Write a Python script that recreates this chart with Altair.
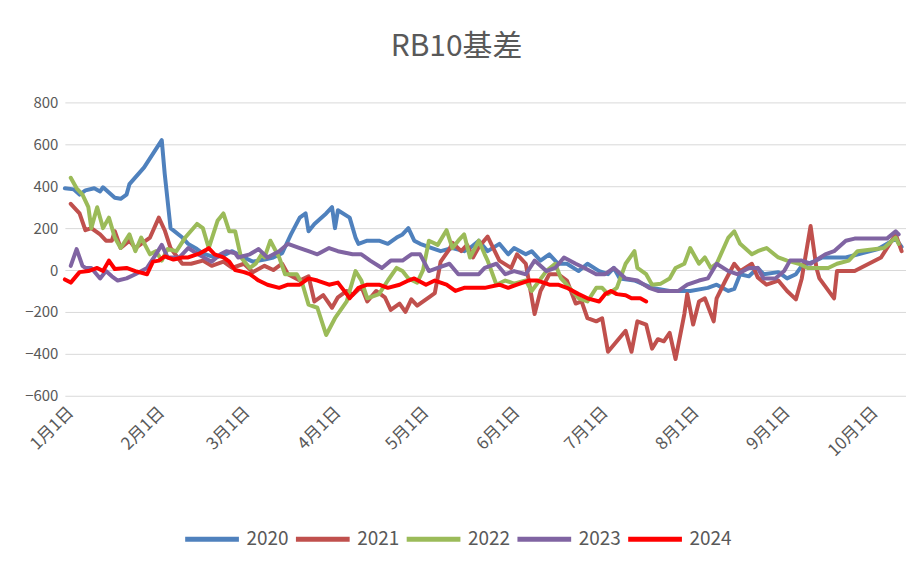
import altair as alt
import pandas as pd

years = ["2020", "2021", "2022", "2023", "2024"]
colors = ["#4F81BD", "#C0504D", "#9BBB59", "#8064A2", "#FF0000"]

# (day of year offset from Jan 1, basis value)
s2020 = [(0,390),(3,385),(5,360),(7,380),(10,390),(12,375),(13,395),(15,370),(17,345),(19,340),
         (21,360),(22,410),(27,490),(33,620),(34,460),(36,200),(40,155),(42,125),(45,100),(47,80),
         (51,60),(54,70),(57,90),(61,60),(64,40),(68,50),(71,60),(74,80),(77,170),(80,250),
         (82,270),(83,185),(85,220),(89,270),(91,300),(92,200),(93,285),(97,250),(99,155),(100,125),
         (103,140),(107,140),(110,125),(113,155),(115,170),(117,200),(119,140),(121,125),(125,105),(128,90),
         (132,105),(136,90),(138,105),(141,140),(144,90),(148,125),(151,75),(153,105),(157,75),(159,90),
         (162,45),(165,75),(168,30),(171,30),(175,-5),(178,30),(182,-5),(185,-20),(187,10),(189,-40),
         (194,-50),(200,-85),(206,-100),(213,-100),(219,-85),(222,-70),(226,-100),(228,-90),(230,-20),(233,-30),
         (236,10),(238,-20),(243,-10),(246,-40),(249,-20),(251,20),(255,40),(258,60),(262,60),(266,60),
         (277,100),(283,150),(285,110)]

s2021 = [(2,316),(5,270),(7,190),(9,200),(12,170),(14,140),(16,140),(17,185),(19,105),(22,140),
         (24,105),(26,125),(29,155),(32,250),(34,190),(36,105),(40,30),(43,30),(47,45),(50,20),
         (54,40),(57,10),(61,30),(64,-10),(68,20),(71,0),(74,30),(76,-20),(80,-50),(83,-30),
         (85,-150),(88,-120),(91,-180),(93,-130),(96,-100),(98,-120),(101,-80),(103,-150),(106,-100),(109,-130),
         (111,-190),(114,-160),(116,-200),(118,-140),(120,-170),(124,-130),(126,-110),(128,40),(131,100),(132,130),
         (135,90),(137,120),(139,60),(141,110),(144,160),(148,45),(152,10),(154,75),(157,30),(160,-210),
         (162,-100),(165,-20),(168,-20),(171,-50),(174,-160),(176,-150),(178,-230),(181,-245),(183,-230),(185,-390),
         (188,-340),(191,-290),(193,-390),(195,-245),(198,-260),(200,-375),(202,-330),(204,-340),(206,-300),(208,-425),
         (211,-210),(212,-115),(214,-260),(216,-150),(218,-135),(221,-245),(222,-135),(225,-50),(228,30),(230,-5),
         (234,30),(236,-35),(239,-70),(243,-50),(246,-100),(249,-140),(251,-40),(254,210),(256,10),(257,-40),
         (262,-135),(263,-5),(269,-5),(278,60),(283,170),(285,90)]

s2022 = [(2,440),(4,390),(6,360),(8,300),(9,200),(11,300),(13,200),(15,250),(17,155),(19,105),
         (22,170),(24,90),(26,155),(29,75),(31,90),(33,45),(35,100),(38,90),(41,155),(45,220),
         (47,200),(49,105),(52,235),(54,270),(56,185),(58,185),(60,60),(63,10),(65,30),(67,75),
         (68,60),(70,140),(73,60),(75,-20),(79,-20),(81,-70),(83,-165),(86,-180),(89,-310),(92,-230),
         (96,-150),(97,-100),(99,-5),(101,-50),(103,-135),(107,-115),(110,-50),(113,10),(115,-5),(117,-40),
         (120,-60),(122,0),(124,140),(127,120),(130,190),(132,105),(134,140),(136,170),(138,60),(141,140),
         (143,75),(144,45),(147,-70),(150,-50),(153,-65),(157,-50),(159,-100),(164,-5),(167,30),(169,-40),
         (171,-70),(175,-135),(178,-150),(181,-85),(183,-85),(185,-115),(188,-85),(191,30),(194,90),(195,10),
         (198,-20),(200,-70),(203,-65),(206,-40),(208,10),(211,30),(213,105),(216,30),(218,60),(220,10),
         (222,30),(226,155),(228,185),(230,125),(234,75),(236,90),(239,105),(243,60),(246,45),(250,30),
         (253,10),(256,10),(260,10),(263,30),(267,45),(270,90),(279,105),(283,155),(284,125)]

s2023 = [(2,20),(4,100),(6,20),(7,10),(9,10),(12,-40),(14,-5),(16,-30),(18,-50),(21,-40),
         (24,-20),(28,10),(31,75),(33,120),(35,60),(39,60),(42,105),(46,70),(50,40),(53,75),
         (55,90),(58,80),(59,60),(63,75),(66,100),(69,60),(73,90),(76,125),(80,105),(83,90),
         (86,75),(90,105),(93,90),(98,75),(101,75),(104,45),(108,10),(111,45),(115,45),(118,75),
         (121,75),(124,-5),(127,10),(131,30),(134,-20),(138,-20),(141,-20),(143,10),(147,30),(150,-20),
         (153,-5),(157,-20),(160,45),(164,-5),(167,10),(170,60),(174,30),(177,10),(181,-20),(184,-20),
         (187,10),(191,-40),(195,-50),(199,-85),(202,-100),(205,-100),(209,-100),(212,-70),(216,-50),(219,-40),
         (222,30),(226,-5),(229,-20),(233,10),(236,10),(238,-40),(242,-40),(245,-5),(247,45),(251,45),
         (254,30),(259,75),(262,90),(266,140),(269,150),(272,150),(277,150),(280,150),(283,185),(284,170)]

s2024 = [(0,-45),(2,-60),(5,-10),(8,-5),(11,10),(13,-5),(15,45),(17,5),(21,10),(24,-5),
         (28,-20),(30,40),(32,45),(34,65),(37,50),(40,60),(42,60),(46,80),(48,95),(49,105),
         (51,75),(54,60),(56,40),(58,0),(61,-10),(63,-20),(66,-50),(69,-70),(73,-85),(76,-70),
         (80,-70),(83,-40),(86,-50),(90,-70),(93,-60),(96,-115),(97,-135),(100,-85),(103,-70),(107,-70),
         (110,-85),(114,-70),(117,-50),(119,-40),(123,-70),(126,-50),(130,-70),(133,-100),(136,-85),(140,-85),
         (143,-85),(148,-70),(151,-85),(154,-70),(158,-50),(161,-50),(165,-70),(168,-70),(171,-85),(175,-115),
         (178,-135),(182,-150),(184,-115),(186,-100),(188,-115),(191,-120),(193,-135),(196,-135),(198,-150)]

series = {"2020": s2020, "2021": s2021, "2022": s2022, "2023": s2023, "2024": s2024}

base = pd.Timestamp("2024-01-01")
rows = []
for yr in years:
    for d, v in series[yr]:
        rows.append({"date": (base + pd.Timedelta(days=d)).strftime("%Y-%m-%dT00:00:00"),
                     "value": v, "year": yr})
df = pd.DataFrame(rows)

month_ticks = [alt.DateTime(year=2024, month=m, date=1) for m in range(1, 11)]
y_ticks = list(range(-600, 801, 200))
txt = "#595959"

chart = alt.Chart(df).mark_line(strokeWidth=4, strokeJoin="round", strokeCap="round").encode(
    x=alt.X("date:T",
            scale=alt.Scale(domain=[alt.DateTime(year=2024, month=1, date=1),
                                    alt.DateTime(year=2024, month=10, date=13, hours=12)]),
            axis=alt.Axis(values=month_ticks, format="%-m月%-d日", labelAngle=-45, grid=False,
                          domain=False, ticks=False, labelPadding=8, labelFontSize=17,
                          labelColor=txt, labelOverlap=False, labelFlush=False, title=None)),
    y=alt.Y("value:Q",
            scale=alt.Scale(domain=[-600, 800], nice=False, zero=False),
            axis=alt.Axis(values=y_ticks, grid=True, gridColor="#D9D9D9", gridWidth=1,
                          domain=False, ticks=False, labelPadding=7, labelFontSize=15,
                          labelColor=txt, title=None)),
    color=alt.Color("year:N", scale=alt.Scale(domain=years, range=colors),
                    legend=alt.Legend(title=None, orient="none", legendX=118, legendY=408,
                                      direction="horizontal", symbolType="stroke",
                                      symbolSize=2900, symbolStrokeWidth=5,
                                      labelFontSize=19, labelColor=txt, labelOffset=5,
                                      columnPadding=-4)),
).properties(
    width=843, height=294,
    title=alt.TitleParams(text="RB10基差", fontSize=30, fontWeight="normal", color=txt,
                          anchor="middle", offset=10, dx=-29, baseline="alphabetic"),
    autosize=alt.AutoSizeParams(type="none"),
    padding={"left": 57, "top": 94, "right": 0, "bottom": 165},
).configure(font="Noto Sans CJK SC").configure_view(stroke=None)

chart.save("out.html", embed_options={"renderer": "svg", "actions": False})
